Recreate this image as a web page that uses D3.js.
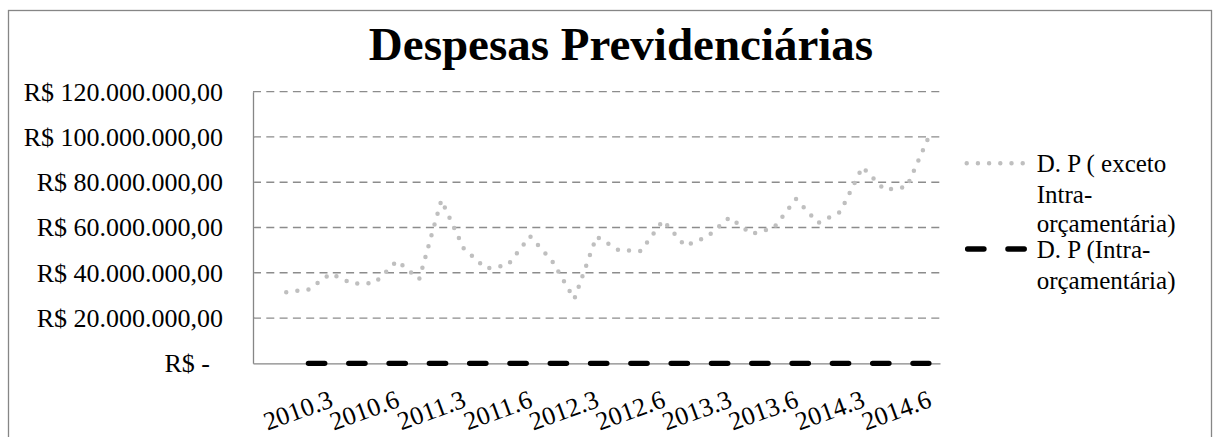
<!DOCTYPE html>
<html lang="pt">
<head>
<meta charset="UTF-8">
<title>Despesas Previdenciárias</title>
<script src="https://cdn.jsdelivr.net/npm/d3@7"></script>
<style>
  body { margin: 0; background: #fff; }
  svg { display: block; font-family: "Liberation Serif", "Times New Roman", serif; }
</style>
</head>
<body>
<svg width="1220" height="437"></svg>
<script>
// bimestres; the first row of the sheet has no label and no value
var categories = ["", "2010.1", "2010.2", "2010.3", "2010.4", "2010.5", "2010.6",
  "2011.1", "2011.2", "2011.3", "2011.4", "2011.5", "2011.6",
  "2012.1", "2012.2", "2012.3", "2012.4", "2012.5", "2012.6",
  "2013.1", "2013.2", "2013.3", "2013.4", "2013.5", "2013.6",
  "2014.1", "2014.2", "2014.3", "2014.4", "2014.5", "2014.6"];
var tickLabels = ["2010.3", "2010.6", "2011.3", "2011.6", "2012.3", "2012.6",
  "2013.3", "2013.6", "2014.3", "2014.6"];
var yTicks = [0, 20000000, 40000000, 60000000, 80000000, 100000000, 120000000];

// D. P ( exceto Intra-orçamentária), R$
var despesas = [null, 31400000, 32600000, 39600000, 35200000, 35500000, 45300000,
  37200000, 72100000, 50900000, 41900000, 43400000, 56200000,
  45200000, 28400000, 56000000, 50000000, 49600000, 63100000,
  51800000, 56000000, 64400000, 57100000, 59800000, 72600000,
  62000000, 66900000, 86700000, 76600000, 77900000, 100200000];
// D. P (Intra-orçamentária), R$
var intra = [null, null, 0, 0, 0, 0, 0,
  0, 0, 0, 0, 0, 0,
  0, 0, 0, 0, 0, 0,
  0, 0, 0, 0, 0, 0,
  0, 0, 0, 0, 0, 0];

var legendLines = [["D. P ( exceto", "Intra-", "orçamentária)"], ["D. P (Intra-", "orçamentária)"]];

var margin = { top: 91.7, right: 280, bottom: 73.7, left: 253 };
var width = 1220 - margin.left - margin.right;
var height = 437 - margin.top - margin.bottom;

var ptBR = d3.formatLocale({ decimal: ",", thousands: ".", grouping: [3], currency: ["R$ ", ""] });
var money = ptBR.format(",.2f");

var x = d3.scaleBand().domain(categories).range([0, width]).padding(0);
var y = d3.scaleLinear().domain([0, 120000000]).range([height, 0]);

var root = d3.select("svg");

// chart area border
root.append("rect")
  .attr("x", 8.5).attr("y", 10.5)
  .attr("width", 1203).attr("height", 440)
  .attr("fill", "none").attr("stroke", "#868686").attr("stroke-width", 1.3);

root.append("text")
  .attr("x", 621).attr("y", 60)
  .attr("text-anchor", "middle")
  .style("font-size", "47px").style("font-weight", "bold")
  .text("Despesas Previdenciárias");

var svg = root.append("g")
  .attr("transform", "translate(" + margin.left + "," + margin.top + ")");

// gridlines
svg.append("g").selectAll("line")
  .data(yTicks.filter(function(d) { return d > 0; }))
  .enter().append("line")
  .attr("x1", 0).attr("x2", width)
  .attr("y1", function(d) { return y(d); })
  .attr("y2", function(d) { return y(d); })
  .attr("stroke", "#8c8c8c").attr("stroke-width", 1.3)
  .attr("stroke-dasharray", "8,5.3");

// y axis
var yAxis = d3.axisLeft(y).tickValues(yTicks).tickSize(0).tickSizeOuter(0).tickPadding(30)
  .tickFormat(function(d) { return d === 0 ? "R$ -" : "R$ " + money(d); });
var gy = svg.append("g").call(yAxis).attr("font-family", null).attr("font-size", null);
gy.select(".domain").attr("stroke", "#868686").attr("stroke-width", 1.3);
gy.selectAll("text").style("font-size", "26px").attr("fill", "#000")
  .filter(function(d) { return d === 0; }).attr("dx", -13);

// x axis
var xAxis = d3.axisBottom(x).tickValues(tickLabels).tickSize(0).tickSizeOuter(0);
var gx = svg.append("g").attr("transform", "translate(0," + height + ")").call(xAxis)
  .attr("font-family", null).attr("font-size", null);
gx.select(".domain").attr("stroke", "#868686").attr("stroke-width", 1.3);
gx.selectAll("text")
  .attr("x", 0).attr("y", 0).attr("dy", 0)
  .attr("text-anchor", "end")
  .attr("transform", "translate(4,43) rotate(-20)")
  .style("font-size", "26px").attr("fill", "#000");

var line = d3.line()
  .defined(function(d) { return d != null; })
  .x(function(d, i) { return x(categories[i]) + x.bandwidth() / 2; })
  .y(function(d) { return y(d); });

svg.append("path").datum(despesas)
  .attr("d", line)
  .attr("fill", "none").attr("stroke", "#bfbfbf").attr("stroke-width", 4.5)
  .attr("stroke-linecap", "round").attr("stroke-linejoin", "round")
  .attr("stroke-dasharray", "0,11.2");

svg.append("path").datum(intra)
  .attr("d", line)
  .attr("fill", "none").attr("stroke", "#000").attr("stroke-width", 5.3)
  .attr("stroke-linecap", "round")
  .attr("stroke-dasharray", "16.4,23.9");

// legend
var legend = root.append("g");
var legendY = [163.3, 249];
legend.append("line")
  .attr("x1", 966.7).attr("x2", 1028.3).attr("y1", legendY[0]).attr("y2", legendY[0])
  .attr("stroke", "#bfbfbf").attr("stroke-width", 4.5)
  .attr("stroke-linecap", "round").attr("stroke-dasharray", "0,11.2");
legend.append("line")
  .attr("x1", 967.6).attr("x2", 1025.7).attr("y1", legendY[1]).attr("y2", legendY[1])
  .attr("stroke", "#000").attr("stroke-width", 5.3)
  .attr("stroke-linecap", "round").attr("stroke-dasharray", "16.4,23.9");

var baselines = [[171.7, 202.5, 232], [258, 289]];
legendLines.forEach(function(lines, s) {
  lines.forEach(function(t, k) {
    legend.append("text")
      .attr("x", 1036.7).attr("y", baselines[s][k])
      .style("font-size", "25px")
      .text(t);
  });
});
</script>
</body>
</html>
